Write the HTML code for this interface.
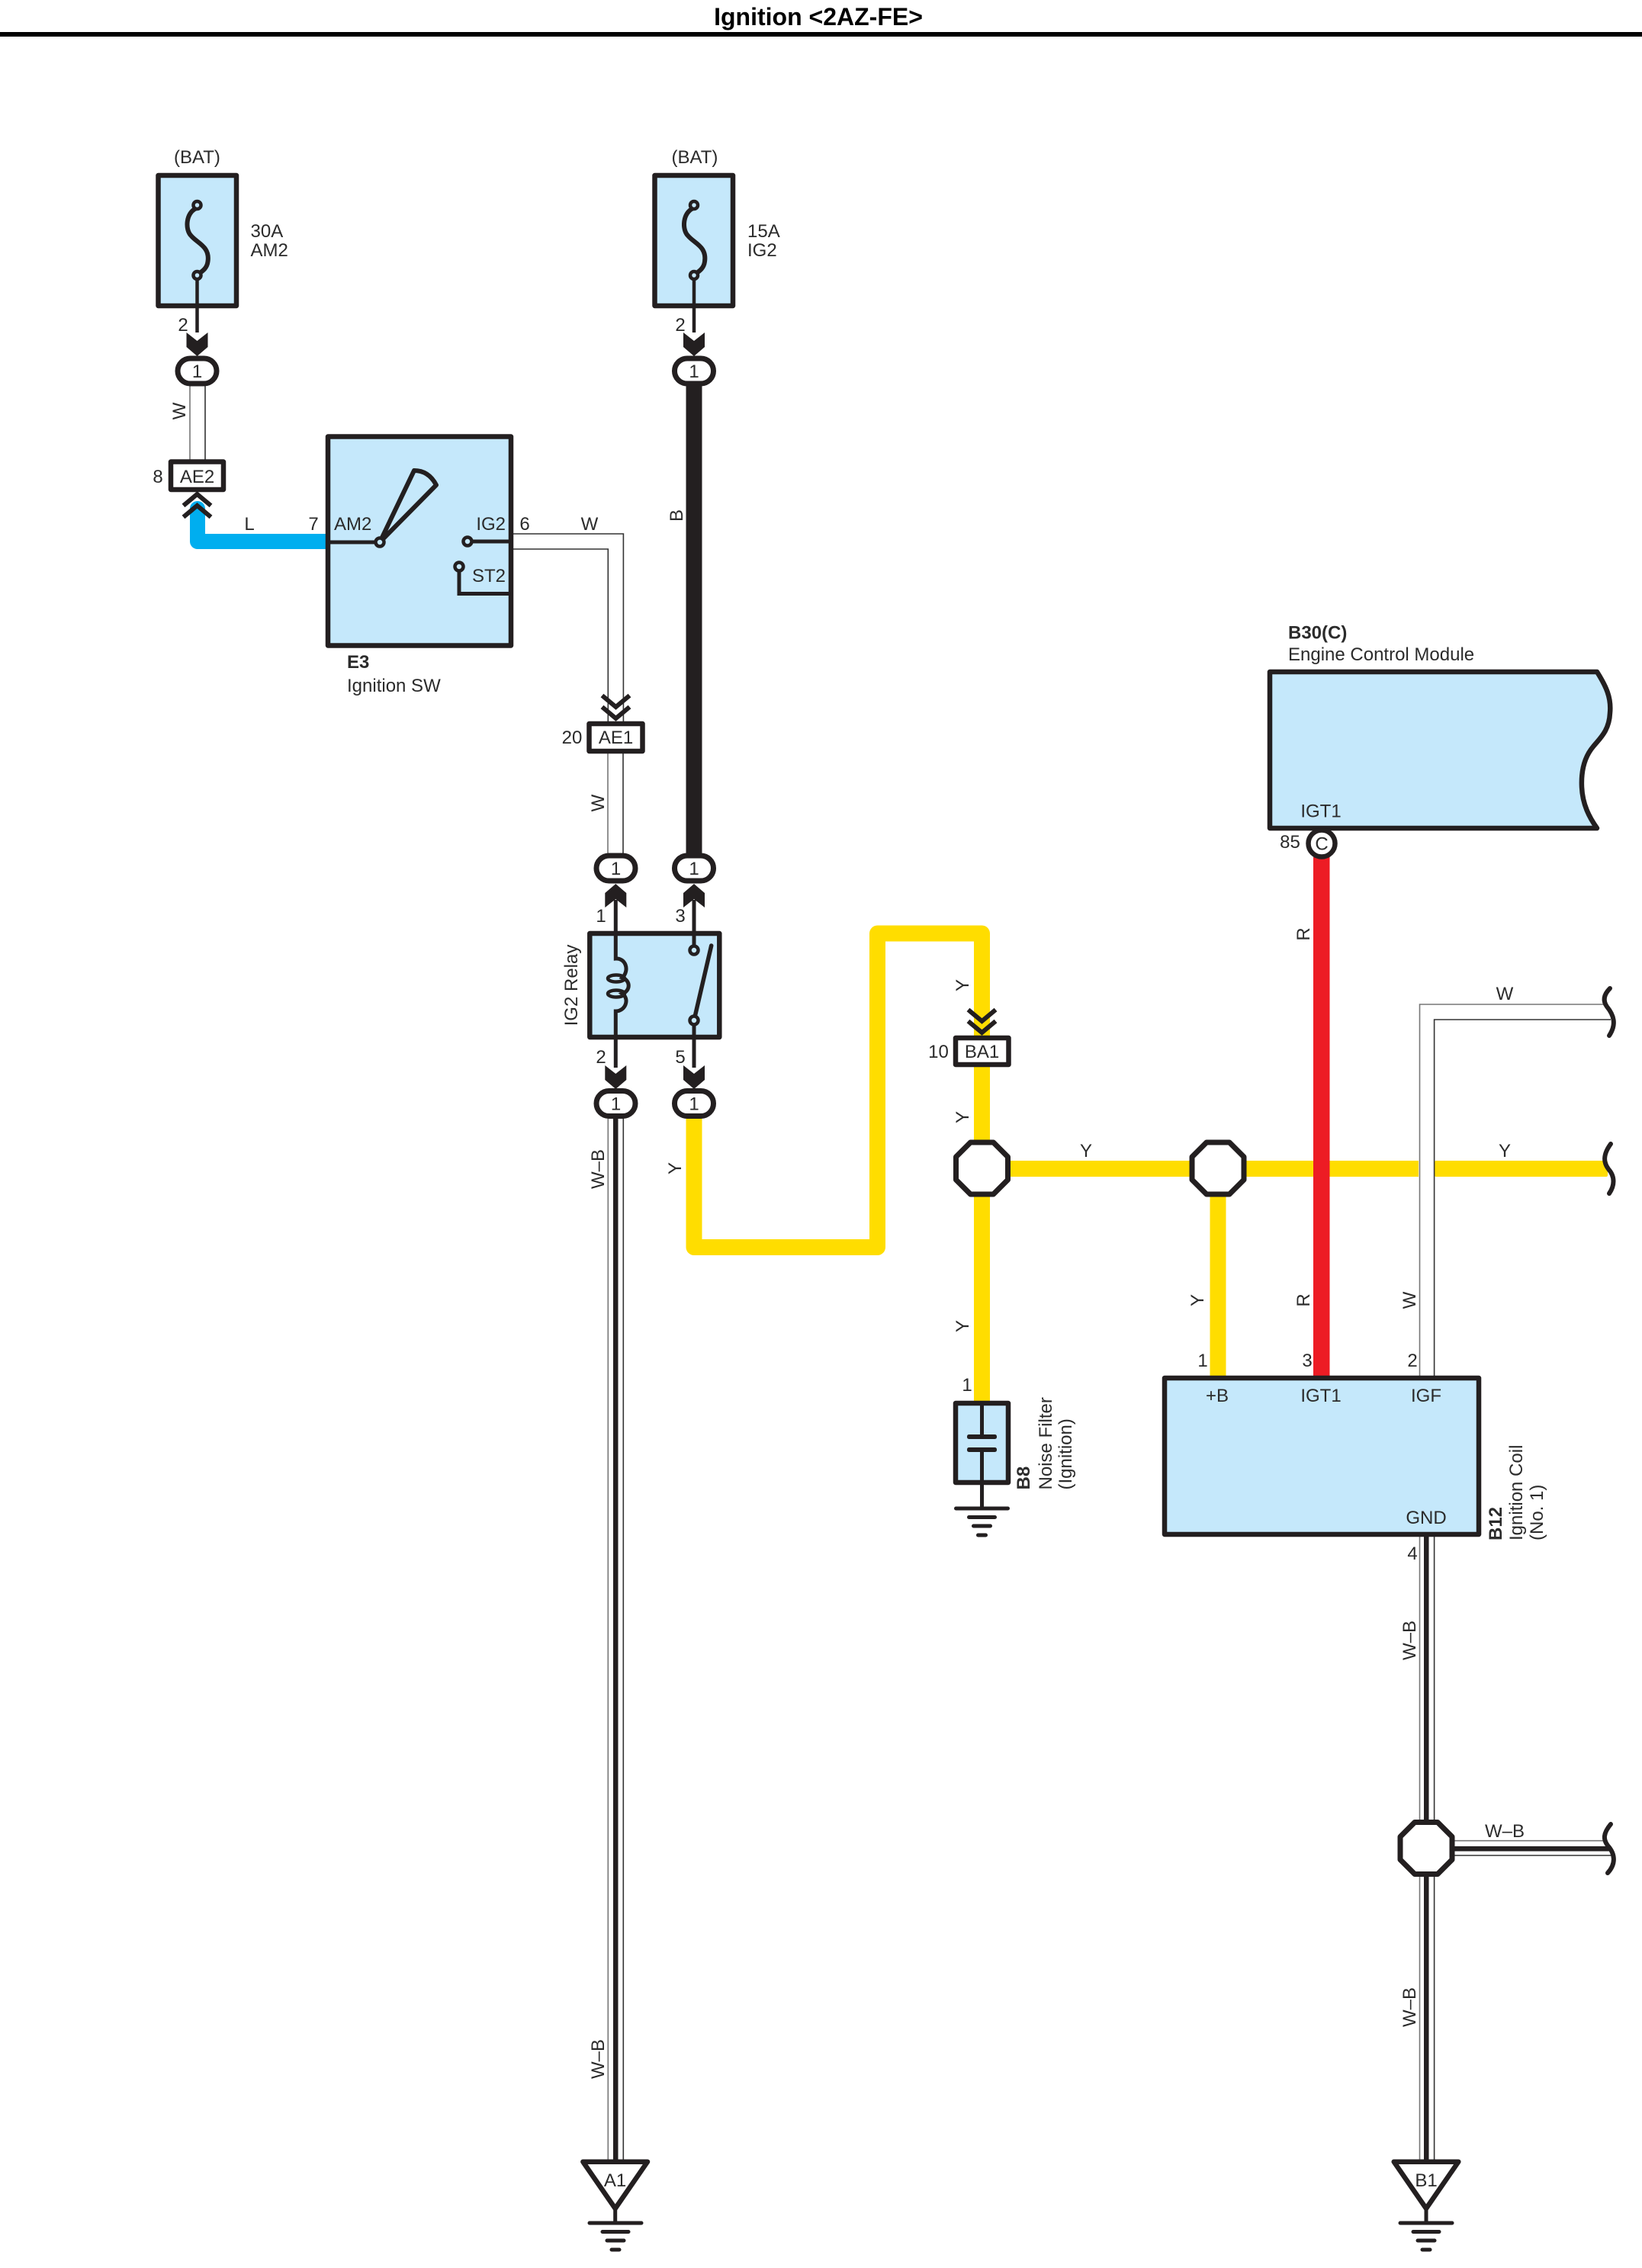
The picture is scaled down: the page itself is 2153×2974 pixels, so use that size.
<!DOCTYPE html>
<html><head><meta charset="utf-8"><style>
html,body{margin:0;padding:0;background:#fff}
svg{display:block}
text{font-family:"Liberation Sans",sans-serif;font-size:24px;fill:#2b2b2b}
.m{text-anchor:middle}.e{text-anchor:end}.b{font-weight:bold}
.tg{fill:none;stroke:#777;stroke-width:1.6}
.tk{fill:none;stroke:#333;stroke-width:1.6}
.s{fill:none;stroke:#231F20;stroke-width:5}
.br{fill:none;stroke:#231F20;stroke-width:6;stroke-linecap:round}
.box{fill:#C5E8FB;stroke:#231F20;stroke-width:6.5;stroke-linejoin:round}
.wb{fill:#fff;stroke:#231F20;stroke-width:6.5;stroke-linejoin:round}
.cb{fill:#C5E8FB;stroke:#231F20;stroke-width:4.5}
</style></head><body>
<svg xmlns="http://www.w3.org/2000/svg" width="2153" height="2974" viewBox="0 0 2153 2974">
<defs>
<polygon id="ah" points="-14,0 0,11 14,0 14,19 0,31 -14,19" fill="#231F20"/>
<g id="ch" fill="none" stroke="#231F20" stroke-width="6"><polyline points="-18,0 0,15 18,0"/><polyline points="-18,15 0,30 18,15"/></g>
<polygon id="oct" class="wb" style="stroke-width:7" points="-15,-34 15,-34 34,-15 34,15 15,34 -15,34 -34,15 -34,-15"/>
<rect id="ov" class="wb" style="stroke-width:7" x="-25.5" y="-16.5" width="51" height="33" rx="16.5"/>
<g id="gnd" fill="#231F20"><rect x="-36.5" y="-2.5" width="73" height="5" rx="2.5"/><rect x="-19.5" y="9" width="39" height="5" rx="2.5"/><rect x="-13.5" y="20.5" width="27" height="5" rx="2.5"/><rect x="-7.5" y="32.5" width="15" height="5" rx="2.5"/></g>
<g id="fuse"><path d="M-1,-88C-15,-82 -16,-60 -8,-52C0,-42 17,-38 14,-18C13,-10 8,-6 2,-2" fill="none" stroke="#231F20" stroke-width="6"/><circle cx="0" cy="-92" r="5" class="cb"/><circle cx="0" cy="0" r="5" class="cb"/></g>
</defs>

<!-- title -->
<text x="1073" y="33" class="m b" style="font-size:32px;fill:#000">Ignition &lt;2AZ-FE&gt;</text>
<rect x="0" y="42" width="2153" height="6" fill="#000"/>

<!-- thin / coloured wires -->
<path class="tg" d="M249,506V603"/><path class="tk" d="M269,506V603"/>
<path d="M427,710H259V667" fill="none" stroke="#00AEEF" stroke-width="20" stroke-linejoin="round" stroke-linecap="round"/>
<path class="tk" d="M673,700H817.4V947"/><path class="tk" d="M673,720H797.3V947"/>
<path class="tg" d="M797,987V1120"/><path class="tk" d="M817,987V1120"/>
<rect x="899.5" y="500" width="21" height="625" fill="#231F20"/>
<path class="tg" d="M797.3,1465V2836"/><path class="tk" d="M817.3,1465V2836"/>
<rect x="804" y="1465" width="6.5" height="1371" fill="#231F20"/>
<path d="M910,1465V1635.5H1150.5V1224H1287.5V1358" fill="none" stroke="#FFDD00" stroke-width="21" stroke-linejoin="round"/>
<rect x="1277" y="1396" width="21" height="100" fill="#FFDD00"/>
<rect x="1277" y="1568" width="21" height="272" fill="#FFDD00"/>
<rect x="1322" y="1522" width="240" height="21" fill="#FFDD00"/>
<rect x="1632" y="1522" width="228" height="21" fill="#FFDD00"/>
<rect x="1881" y="1522" width="227" height="21" fill="#FFDD00" rx="2"/>
<rect x="1586.5" y="1566" width="21" height="240" fill="#FFDD00"/>
<rect x="1722" y="1124" width="21.5" height="682" fill="#ED1C24"/>
<path class="tg" d="M2103,1317H1861.5V1806"/><path class="tk" d="M2112,1337H1880.6V1806"/>
<path class="tg" d="M1861.5,2013V2836"/><path class="tk" d="M1880.6,2013V2836"/>
<rect x="1867" y="2013" width="6.5" height="823" fill="#231F20"/>
<path class="tg" d="M1905,2413.7H2103"/><path class="tk" d="M1905,2433H2115"/>
<rect x="1905" y="2421" width="205" height="6.5" fill="#231F20"/>

<!-- fuses -->
<rect class="box" x="207.5" y="230" width="102.5" height="171"/>
<g transform="translate(258.5,361)"><path d="M0,0V75" stroke="#231F20" stroke-width="4.5"/><use href="#fuse"/></g>
<rect class="box" x="858.5" y="230" width="102.5" height="171"/>
<g transform="translate(910,361)"><path d="M0,0V75" stroke="#231F20" stroke-width="4.5"/><use href="#fuse"/></g>
<text x="258.5" y="214" class="m">(BAT)</text><text x="911" y="214" class="m">(BAT)</text>
<text x="328.5" y="311">30A</text><text x="328.5" y="336">AM2</text>
<text x="980" y="311">15A</text><text x="980" y="336">IG2</text>
<text x="240" y="434" class="m">2</text><text x="892" y="434" class="m">2</text>
<use href="#ah" x="258.5" y="436"/><use href="#ah" x="910" y="436"/>
<use href="#ov" x="258.5" y="486.5"/><use href="#ov" x="910" y="486.5"/>
<text x="258.5" y="495" class="m">1</text><text x="910" y="495" class="m">1</text>

<!-- AE2 -->
<rect class="wb" x="224" y="605.5" width="69" height="36.5"/>
<text x="258.5" y="633" class="m">AE2</text><text x="207" y="633" class="m">8</text>
<g transform="translate(258.5,678) scale(1,-1)"><use href="#ch"/></g>
<text x="327" y="695" class="m">L</text><text x="411" y="695" class="m">7</text>

<!-- Ignition switch -->
<rect class="box" x="430" y="572.5" width="240" height="274"/>
<path class="s" d="M430,711H492"/><path class="s" d="M620,710H670"/>
<path class="s" d="M602,749V778.5H670"/>
<path d="M498,711L543,617Q562,617 572,636Z" fill="none" stroke="#231F20" stroke-width="6" stroke-linejoin="round"/>
<circle cx="498" cy="711" r="5.5" class="cb"/><circle cx="613" cy="710" r="5.5" class="cb"/><circle cx="602" cy="743" r="5.5" class="cb"/>
<text x="438" y="695">AM2</text><text x="663" y="695" class="e">IG2</text><text x="663" y="763" class="e">ST2</text>
<text x="688" y="695" class="m">6</text><text x="773" y="695" class="m">W</text>
<text x="455" y="876" class="b">E3</text><text x="455" y="907">Ignition SW</text>

<!-- AE1 -->
<use href="#ch" x="807.5" y="912"/>
<rect class="wb" x="772.5" y="949" width="70" height="36"/>
<text x="807.5" y="975" class="m">AE1</text><text x="750" y="975" class="m">20</text>
<use href="#ov" x="807.5" y="1138.5"/><use href="#ov" x="910" y="1138.5"/>
<text x="807.5" y="1147" class="m">1</text><text x="910" y="1147" class="m">1</text>
<g transform="translate(807.3,1190) scale(1,-1)"><use href="#ah"/></g>
<g transform="translate(910,1190) scale(1,-1)"><use href="#ah"/></g>
<text x="788" y="1209" class="m">1</text><text x="892" y="1209" class="m">3</text>

<!-- Relay -->
<rect class="box" x="773.3" y="1224" width="170" height="136"/>
<path class="s" d="M807.3,1180V1257C820,1256 826,1272 816,1282C827,1286 827,1299 816,1303C826,1310 820,1326 807.3,1326V1400"/>
<ellipse cx="808" cy="1283" rx="11" ry="4.5" fill="none" stroke="#231F20" stroke-width="4.5"/><ellipse cx="808" cy="1303" rx="11" ry="4.5" fill="none" stroke="#231F20" stroke-width="4.5"/>
<path class="s" d="M910,1180V1240M910,1344V1400"/>
<path d="M910,1338L932.7,1240" fill="none" stroke="#231F20" stroke-width="5.5" stroke-linecap="round"/>
<circle cx="910" cy="1246" r="5.5" class="cb"/><circle cx="910" cy="1338" r="5.5" class="cb"/>
<text transform="translate(757,1292) rotate(-90)" class="m">IG2 Relay</text>
<text x="788" y="1394" class="m">2</text><text x="892" y="1394" class="m">5</text>
<use href="#ah" x="807.3" y="1397"/><use href="#ah" x="910" y="1397"/>
<use href="#ov" x="807.5" y="1447"/><use href="#ov" x="910" y="1447"/>
<text x="807.5" y="1455.5" class="m">1</text><text x="910" y="1455.5" class="m">1</text>

<!-- BA1 -->
<use href="#ch" x="1287.5" y="1324"/>
<rect class="wb" x="1253" y="1361" width="69.5" height="35"/>
<text x="1287.5" y="1387" class="m">BA1</text><text x="1230.5" y="1387" class="m">10</text>

<!-- junctions -->
<use href="#oct" x="1287.5" y="1532"/><use href="#oct" x="1597" y="1532"/><use href="#oct" x="1870" y="2423.5"/>

<!-- Noise filter -->
<rect class="box" x="1253" y="1840" width="69" height="104"/>
<path class="s" d="M1287.5,1840V1884M1287.5,1901V1978"/>
<rect x="1268" y="1881" width="39" height="6" rx="2.5" fill="#231F20"/><rect x="1268" y="1898" width="39" height="6" rx="2.5" fill="#231F20"/>
<use href="#gnd" x="1287.5" y="1978"/>
<text x="1268" y="1824" class="m">1</text>
<text transform="translate(1350,1953.5) rotate(-90)" class="b">B8</text>
<text transform="translate(1379,1953.5) rotate(-90)">Noise Filter</text>
<text transform="translate(1405,1953.5) rotate(-90)">(Ignition)</text>

<!-- Ignition coil -->
<rect class="box" x="1527" y="1807" width="412" height="205"/>
<text x="1596" y="1838" class="m">+B</text><text x="1732" y="1838" class="m">IGT1</text><text x="1870" y="1838" class="m">IGF</text><text x="1870" y="1998" class="m">GND</text>
<text x="1577" y="1792" class="m">1</text><text x="1714" y="1792" class="m">3</text><text x="1852" y="1792" class="m">2</text><text x="1852" y="2045" class="m">4</text>
<text transform="translate(1969,2020) rotate(-90)" class="b">B12</text>
<text transform="translate(1996,2020) rotate(-90)">Ignition Coil</text>
<text transform="translate(2023,2020) rotate(-90)">(No. 1)</text>

<!-- ECM -->
<path class="box" d="M1665,881H2094C2106,900 2113,915 2111,935C2110,958 2098,968 2089,979C2078,992 2073,1010 2074,1032C2075,1055 2084,1072 2094,1086H1665Z"/>
<text x="1689" y="837.5" class="b">B30(C)</text><text x="1689" y="866">Engine Control Module</text>
<text x="1732" y="1071.5" class="m">IGT1</text>
<circle cx="1733" cy="1106" r="17.5" class="wb"/>
<text x="1733" y="1114.5" class="m">C</text><text x="1691.5" y="1112" class="m">85</text>

<!-- breaks -->
<path class="br" d="M2111,1296C2102,1305 2102,1313 2107,1320C2116,1331 2120,1343 2110,1358"/>
<path class="br" d="M2112,1500C2101,1515 2103,1525 2109,1533C2118,1543 2117,1555 2110,1565"/>
<path class="br" d="M2112,2392C2102,2404 2102,2412 2108,2420C2118,2431 2119,2444 2108,2456"/>

<!-- wire labels -->
<text x="1973" y="1311" class="m">W</text><text x="1424" y="1517" class="m">Y</text><text x="1973" y="1517" class="m">Y</text><text x="1973" y="2409" class="m">W–B</text>
<text transform="translate(243,539) rotate(-90)" class="m">W</text>
<text transform="translate(895,676) rotate(-90)" class="m">B</text>
<text transform="translate(792,1053) rotate(-90)" class="m">W</text>
<text transform="translate(792,1533) rotate(-90)" class="m">W–B</text>
<text transform="translate(792,2700) rotate(-90)" class="m">W–B</text>
<text transform="translate(893,1532) rotate(-90)" class="m">Y</text>
<text transform="translate(1270,1292) rotate(-90)" class="m">Y</text>
<text transform="translate(1270,1465) rotate(-90)" class="m">Y</text>
<text transform="translate(1270,1739) rotate(-90)" class="m">Y</text>
<text transform="translate(1578,1705) rotate(-90)" class="m">Y</text>
<text transform="translate(1717,1705) rotate(-90)" class="m">R</text>
<text transform="translate(1717,1225) rotate(-90)" class="m">R</text>
<text transform="translate(1856,1705) rotate(-90)" class="m">W</text>
<text transform="translate(1856,2151) rotate(-90)" class="m">W–B</text>
<text transform="translate(1856,2632) rotate(-90)" class="m">W–B</text>

<!-- grounds -->
<polygon class="wb" points="764.4,2834.7 849,2834.7 806.7,2896"/>
<polygon class="wb" points="1827.7,2834.7 1912.3,2834.7 1870,2896"/>
<text x="806.5" y="2867" class="m">A1</text><text x="1870" y="2867" class="m">B1</text>
<path class="s" d="M806.7,2896V2915M1870,2896V2915"/>
<use href="#gnd" x="807" y="2915"/><use href="#gnd" x="1870" y="2915"/>
</svg>
</body></html>
